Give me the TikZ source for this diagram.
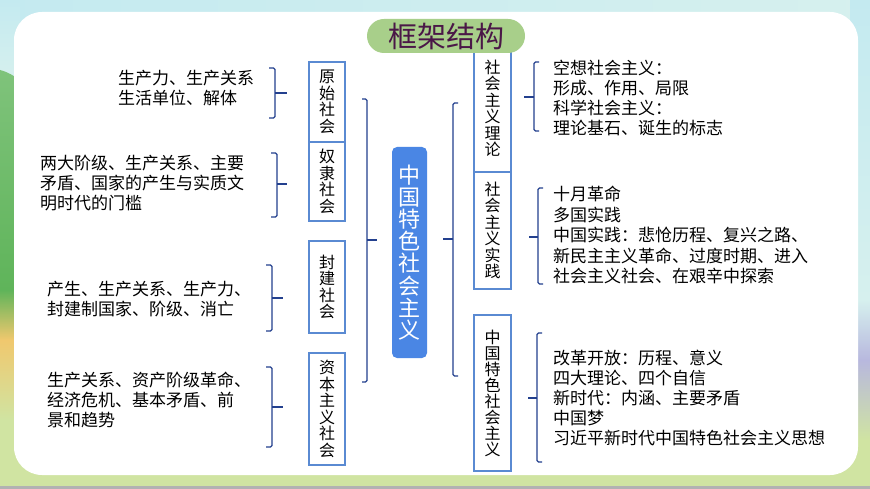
\documentclass[tikz,border=0pt]{standalone}
\usepackage{fontspec}
\setmainfont{Noto Sans CJK SC}
\definecolor{boxblue}{RGB}{90,138,210}
\definecolor{brknavy}{RGB}{35,64,142}
\definecolor{centralblue}{RGB}{74,134,228}
\definecolor{titlegreen}{RGB}{168,207,138}
\definecolor{titlepurple}{RGB}{74,23,71}
\definecolor{bgcyan}{RGB}{196,234,240}
\definecolor{bgcyan2}{RGB}{214,240,238}
\definecolor{bggreen}{RGB}{95,180,90}
\definecolor{bgyellow}{RGB}{240,200,110}
\definecolor{bglight}{RGB}{208,228,162}
\definecolor{bglav}{RGB}{184,184,222}
\begin{document}
\begin{tikzpicture}[x=1pt,y=-1pt,
  cell/.style={draw=boxblue, line width=1.2pt, inner sep=0pt, minimum width=36pt,
    font=\fontsize{16}{16.5}\selectfont, align=center, fill=white},
  brk/.style={draw=brknavy, line width=1.1pt, rounded corners=1.5pt},
  body/.style={font=\fontsize{17}{20}\selectfont, align=left, anchor=west, inner sep=0pt},
]
\useasboundingbox (0,0) rectangle (870,489);
% background
\fill[bglight] (0,0) rectangle (870,489);
\shade[left color=bgcyan, right color=bgcyan2] (0,0) rectangle (870,40);
\shade[top color=bgcyan, bottom color=bgcyan2] (0,0) rectangle (20,80);
\shade[top color=bggreen!80!white, bottom color=bggreen] (0,70) .. controls (8,72) and (14,76) .. (20,80) -- (20,290) -- (0,290) -- cycle;
\shade[top color=bggreen, bottom color=bgyellow] (0,290) rectangle (20,340);
\shade[top color=bgyellow, bottom color=bglight] (0,340) rectangle (20,420);
\shade[top color=bgcyan, bottom color=bgcyan2] (850,0) rectangle (870,300);
\shade[top color=bgcyan2, bottom color=bglav] (850,300) rectangle (870,360);
\shade[top color=bglav, bottom color=bglight] (850,360) rectangle (870,440);
\fill[gray!60] (0,486) rectangle (870,489);
% white panel
\fill[white, rounded corners=28pt] (14,12) rectangle (858,475);

% boxes
\node[cell, minimum height=80pt] (ys) at (327,102) {原\\始\\社\\会};
\node[cell, minimum height=79pt] (nl) at (327,181.5) {奴\\隶\\社\\会};
\node[cell, minimum height=92pt] (fj) at (327,287) {封\\建\\社\\会};
\node[cell, minimum height=112pt] (zb) at (327,409) {资\\本\\主\\义\\社\\会};

\node[cell, minimum width=37pt, minimum height=128pt] (ll) at (492.5,108) {社\\会\\主\\义\\理\\论};
\node[cell, minimum width=37pt, minimum height=117pt] (sj) at (492.5,230.5) {社\\会\\主\\义\\实\\践};
\node[cell, minimum width=37pt, minimum height=156pt, font=\fontsize{16}{16}\selectfont] (ts) at (492.5,393) {中\\国\\特\\色\\社\\会\\主\\义};

\node[fill=centralblue, rounded corners=5pt, minimum width=35pt, minimum height=211pt, inner sep=0pt,
  text=white, font=\fontsize{22}{22.2}\selectfont, align=center] (center) at (409.5,252.5)
  {中\\国\\特\\色\\社\\会\\主\\义};

% title
\node[fill=titlegreen, rounded corners=17pt, minimum width=158pt, minimum height=34pt, inner sep=0pt,
  text=titlepurple, font=\fontsize{29}{30}\selectfont] (title) at (446,36) {框架结构};

% left texts
\node[body] (t1) at (118,88) {生产力、生产关系\\生活单位、解体};
\node[body] (t2) at (40,183) {两大阶级、生产关系、主要\\矛盾、国家的产生与实质文\\明时代的门槛};
\node[body] (t3) at (47,299.5) {产生、生产关系、生产力、\\封建制国家、阶级、消亡};
\node[body] (t4) at (47,400) {生产关系、资产阶级革命、\\经济危机、基本矛盾、前\\景和趋势};

% right texts
\node[body] (r1) at (553,98) {空想社会主义：\\形成、作用、局限\\科学社会主义：\\理论基石、诞生的标志};
\node[body, font=\fontsize{17}{20.5}\selectfont] (r2) at (553,235) {十月革命\\多国实践\\中国实践：悲怆历程、复兴之路、\\新民主主义革命、过度时期、进入\\社会主义社会、在艰辛中探索};
\node[body] (r3) at (553,398) {改革开放：历程、意义\\四大理论、四个自信\\新时代：内涵、主要矛盾\\中国梦\\习近平新时代中国特色社会主义思想};

% left small brackets
\draw[brk] (269,68) -- (275,68) -- (275,118) -- (269,118);
\draw[brk] (275,93) -- (287,93);
\draw[brk] (271,153) -- (277,153) -- (277,217) -- (271,217);
\draw[brk] (277,184) -- (287,184);
\draw[brk] (266,265) -- (272,265) -- (272,331) -- (266,331);
\draw[brk] (272,298) -- (283,298);
\draw[brk] (266,367) -- (272,367) -- (272,447) -- (266,447);
\draw[brk] (272,407) -- (283,407);

% big brackets
\draw[brk] (362,99) -- (367,99) -- (367,382) -- (362,382);
\draw[brk] (367,240) -- (377,240);
\draw[brk] (458,103) -- (453,103) -- (453,376) -- (458,376);
\draw[brk] (453,239) -- (443,239);

% right small brackets
\draw[brk] (539,62) -- (534,62) -- (534,131) -- (539,131);
\draw[brk] (534,97) -- (524,97);
\draw[brk] (543,188) -- (538,188) -- (538,284) -- (543,284);
\draw[brk] (538,237) -- (529,237);
\draw[brk] (542,333) -- (537,333) -- (537,462) -- (542,462);
\draw[brk] (537,398) -- (528,398);
\end{tikzpicture}
\end{document}
